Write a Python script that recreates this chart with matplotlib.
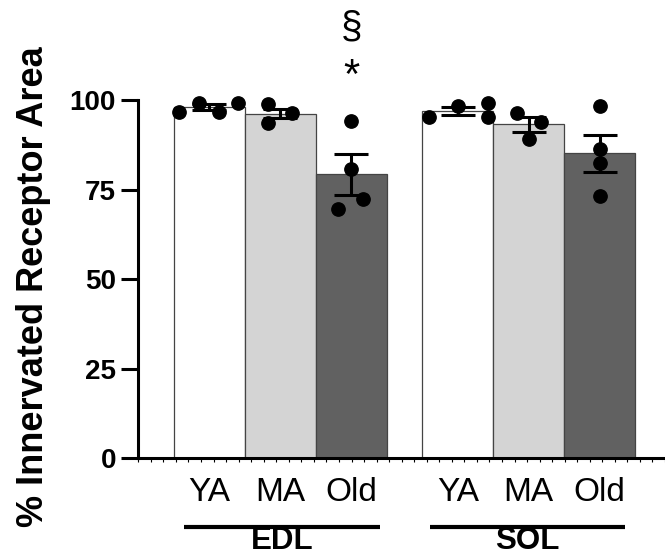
import numpy as np
import matplotlib
matplotlib.use('Agg')
import matplotlib.pyplot as plt
import matplotlib.transforms as mtransforms

plt.rcParams['font.family'] = ['Liberation Sans', 'DejaVu Sans']

# data
muscles = ['EDL', 'SOL']
ages = ['YA', 'MA', 'Old']
means = [98.1, 96.3, 79.3, 97.0, 93.3, 85.2]
sems = [0.8, 1.3, 5.6, 1.1, 2.2, 5.1]
points = [
    [96.7, 99.4, 96.7, 99.4],
    [99.0, 96.4, 93.6],
    [94.3, 80.8, 72.4, 69.7],
    [95.3, 98.5, 99.2, 95.3],
    [96.5, 94.1, 89.1],
    [98.5, 86.3, 82.4, 73.4],
]
yticks = [0, 25, 50, 75, 100]

# layout
xpos = [0, 1, 2, 3.5, 4.5, 5.5]
jitter = [
    [-0.42, -0.14, 0.13, 0.40],
    [-0.18, 0.17, -0.18],
    [0.0, 0.0, 0.17, -0.18],
    [-0.40, 0.01, 0.42, 0.42],
    [-0.17, 0.18, 0.0],
    [0.0, 0.0, 0.0, 0.0],
]
colors = ['white', '#d4d4d4', '#616161'] * 2

fig = plt.figure(figsize=(6.65, 5.57), dpi=100)
ax = fig.add_axes([0.208, 0.1777, 0.792, 0.8223])

ax.bar(xpos, means, width=1.0, color=colors, edgecolor='#444444', linewidth=0.9, zorder=1)
ax.errorbar(xpos, means, yerr=sems, fmt='none', ecolor='black', elinewidth=2.2,
            capsize=12.5, capthick=2.2, zorder=2)
for i in range(len(xpos)):
    xs = [xpos[i] + j for j in jitter[i]]
    ax.scatter(xs, points[i], s=92, color='black', zorder=3, clip_on=False)

ax.set_xlim(-1.0, 6.42)
ax.set_ylim(0, 128.1)

for s in ['top', 'right']:
    ax.spines[s].set_visible(False)
ax.spines['left'].set_bounds(0, 100)
ax.spines['left'].set_linewidth(2.2)
ax.spines['bottom'].set_linewidth(2.2)

ax.set_yticks(yticks)
ax.set_yticklabels([str(v) for v in yticks], fontsize=20, fontweight='bold')
ax.tick_params(axis='y', length=12, width=2.2, pad=4)

ax.set_xticks(xpos)
ax.set_xticklabels(ages * 2, fontsize=24)
ax.tick_params(axis='x', which='major', length=0, pad=14)
ax.set_xticks(np.linspace(-1.0, 6.42, 43), minor=True)
ax.tick_params(axis='x', which='minor', length=3, width=0.8, direction='out')

ax.set_ylabel('% Innervated Receptor Area', fontsize=26, fontweight='bold')
ax.yaxis.set_label_coords(-0.165, 0.375)

# group lines and labels under the axis
trans = mtransforms.blended_transform_factory(ax.transData, ax.transAxes)
groups = [(-0.36, 2.40), (3.11, 5.86)]
for (x0, x1), name in zip(groups, muscles):
    ax.plot([x0, x1], [-0.151, -0.151], color='black', lw=3, transform=trans,
            clip_on=False, solid_capstyle='butt')
    ax.text((x0 + x1) / 2, -0.199, name, transform=trans, ha='center', va='baseline',
            fontsize=22.5, fontweight='bold')

# significance marks above EDL Old
ax.text(xpos[2], 106.5, '*', ha='center', va='center', fontsize=30)
ax.text(xpos[2], 120.5, '§', ha='center', va='center', fontsize=28)

fig.savefig('out.png', dpi=100)
